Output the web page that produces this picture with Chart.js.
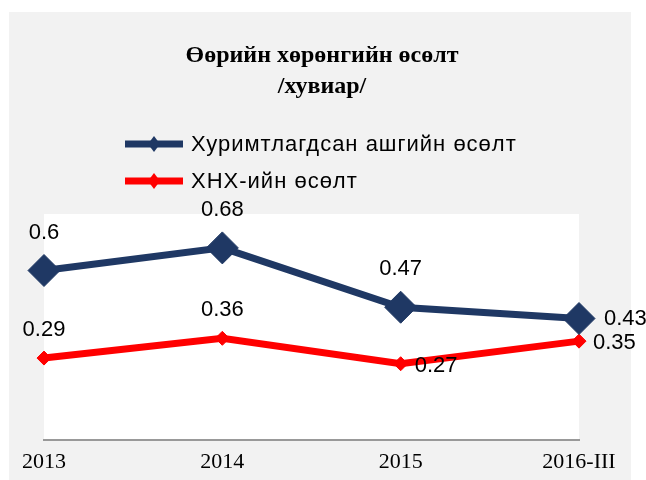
<!DOCTYPE html>
<html>
<head>
<meta charset="utf-8">
<script src="https://cdn.jsdelivr.net/npm/chart.js@4/dist/chart.umd.min.js"></script>
<style>
  html, body { margin: 0; padding: 0; background: #ffffff; }
  #wrap { width: 646px; height: 480px; position: relative; }
</style>
</head>
<body>
<div id="wrap"><canvas id="c" width="646" height="480"></canvas></div>
<script>
// ---- data ----
const categories = ['2013', '2014', '2015', '2016-III'];
const retainedGrowth = [0.6, 0.68, 0.47, 0.43];
const hnhGrowth = [0.29, 0.36, 0.27, 0.35];
const seriesNames = ['Хуримтлагдсан ашгийн өсөлт', 'ХНХ-ийн өсөлт'];
const titleLines = ['Өөрийн хөрөнгийн өсөлт', '/хувиар/'];

// ---- label placement (style) ----
const blueLabelPlace = ['top', 'top', 'top', 'right'];
const redLabelPlace = ['top', 'top', 'right', 'right'];

const BLUE = '#1f3864';
const RED = '#ff0000';
const BG = '#f2f2f2';
const SANS = '"Liberation Sans", Arial, sans-serif';
const SERIF = '"Liberation Serif", "Times New Roman", serif';

const decor = {
  id: 'decor',
  beforeDraw(chart) {
    const ctx = chart.ctx, a = chart.chartArea;
    ctx.save();
    ctx.fillStyle = BG;
    ctx.fillRect(9, 12, 622, 468);
    ctx.fillStyle = '#ffffff';
    ctx.fillRect(a.left, a.top, a.right - a.left, a.bottom - a.top);
    // title
    ctx.fillStyle = '#000000';
    ctx.font = 'bold 24px ' + SERIF;
    ctx.textAlign = 'center';
    ctx.textBaseline = 'middle';
    ctx.fillText(titleLines[0], 322, 56);
    ctx.fillText(titleLines[1], 322, 87);
    // legend
    const items = [
      { name: seriesNames[0], color: BLUE, y: 144 },
      { name: seriesNames[1], color: RED, y: 181 }
    ];
    items.forEach(it => {
      ctx.strokeStyle = it.color;
      ctx.lineWidth = 7;
      ctx.beginPath();
      ctx.moveTo(125, it.y);
      ctx.lineTo(183, it.y);
      ctx.stroke();
      ctx.fillStyle = it.color;
      ctx.beginPath();
      ctx.moveTo(154, it.y - 8);
      ctx.lineTo(160, it.y);
      ctx.lineTo(154, it.y + 8);
      ctx.lineTo(148, it.y);
      ctx.closePath();
      ctx.fill();
      ctx.fillStyle = '#000000';
      ctx.font = '22px ' + SANS;
      ctx.letterSpacing = '1px';
      ctx.textAlign = 'left';
      ctx.textBaseline = 'middle';
      ctx.fillText(it.name, 191, it.y + 1);
      ctx.letterSpacing = '0px';
    });
    ctx.restore();
  },
  afterDatasetsDraw(chart) {
    const ctx = chart.ctx;
    ctx.save();
    ctx.fillStyle = '#000000';
    ctx.font = '22px ' + SANS;
    ctx.textBaseline = 'middle';
    const cfg = [
      { place: blueLabelPlace, up: 38, right: 25, dy: 0 },
      { place: redLabelPlace, up: 28, right: 14, dy: 2 }
    ];
    chart.data.datasets.forEach((ds, di) => {
      const meta = chart.getDatasetMeta(di);
      meta.data.forEach((pt, i) => {
        const txt = String(ds.data[i]);
        const p = cfg[di].place[i];
        if (p === 'top') {
          ctx.textAlign = 'center';
          ctx.fillText(txt, pt.x, pt.y - cfg[di].up);
        } else {
          ctx.textAlign = 'left';
          ctx.fillText(txt, pt.x + cfg[di].right, pt.y + cfg[di].dy);
        }
      });
    });
    ctx.restore();
  }
};

new Chart(document.getElementById('c'), {
  type: 'line',
  data: {
    labels: categories,
    datasets: [
      {
        label: seriesNames[0],
        data: retainedGrowth,
        borderColor: BLUE,
        backgroundColor: BLUE,
        borderWidth: 7,
        pointStyle: 'rectRot',
        pointRadius: 16,
        pointHoverRadius: 16,
        pointBorderWidth: 1,
        tension: 0,
        clip: false
      },
      {
        label: seriesNames[1],
        data: hnhGrowth,
        borderColor: RED,
        backgroundColor: RED,
        borderWidth: 7,
        pointStyle: 'rectRot',
        pointRadius: 7,
        pointHoverRadius: 7,
        pointBorderWidth: 1,
        tension: 0,
        clip: false
      }
    ]
  },
  options: {
    responsive: false,
    animation: false,
    events: [],
    layout: { padding: { left: 44, right: 67, top: 214, bottom: 0 } },
    plugins: {
      legend: { display: false },
      title: { display: false },
      tooltip: { enabled: false }
    },
    scales: {
      x: {
        offset: false,
        grid: { display: false, drawTicks: false },
        border: { display: true, color: '#999999', width: 2 },
        ticks: {
          color: '#000000',
          font: { family: SERIF, size: 22, lineHeight: 1.0 },
          padding: 11,
          autoSkip: false,
          maxRotation: 0
        },
        afterFit(scale) { scale.height = 40; }
      },
      y: {
        display: false,
        min: 0,
        max: 0.8
      }
    }
  },
  plugins: [decor]
});
</script>
</body>
</html>
